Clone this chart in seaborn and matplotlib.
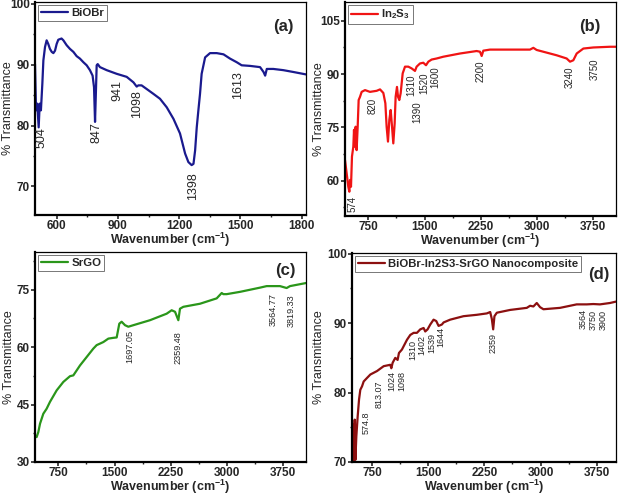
import numpy as np
import pandas as pd
import matplotlib
matplotlib.use("Agg")
import matplotlib.pyplot as plt
from matplotlib.ticker import MultipleLocator
import seaborn as sns

# ---------------- data ----------------
a_x = [494, 499, 505, 512, 517, 523, 530, 535, 543, 551, 559, 567, 576, 584, 592, 600, 608, 624, 633,
       649, 665, 682, 698, 714, 731, 747, 763, 776, 783, 788, 791, 796, 801, 812, 845, 894, 943, 976,
       992, 1000, 1016, 1041, 1074, 1106, 1139, 1172, 1204, 1229, 1245, 1261, 1270, 1278, 1286, 1294,
       1302, 1310, 1327, 1351, 1384, 1417, 1449, 1482, 1506, 1547, 1596, 1613, 1621, 1629, 1661, 1710,
       1759, 1821]
a_y = [90.1, 82.5, 83.6, 79.7, 83.6, 82.5, 86.9, 90.7, 92.9, 94.0, 93.4, 92.6, 92.1, 91.9, 92.3, 93.4,
       94.1, 94.3, 94.0, 93.2, 92.6, 92.1, 91.4, 91.0, 90.4, 89.9, 89.1, 88.2, 86.3, 80.6, 84.1, 89.9,
       90.1, 89.6, 89.1, 88.5, 88.0, 87.1, 86.4, 86.6, 86.6, 86.0, 85.2, 84.4, 83.0, 81.1, 78.7, 75.4,
       74.0, 73.5, 73.7, 75.9, 79.7, 82.5, 85.2, 88.5, 91.2, 91.9, 91.9, 91.7, 91.0, 90.4, 89.9, 89.8,
       89.6, 88.8, 88.2, 89.3, 89.3, 89.1, 88.8, 88.4]
a_peaks = ["504", "847", "941", "1098", "1398", "1613"]
a_peak_x = [526, 796, 897, 992, 1266, 1490]
a_peak_y = [78.1, 78.8, 85.7, 83.6, 70.1, 86.6]

b_x = [439, 461, 483, 497, 506, 519, 532, 550, 559, 568, 581, 594, 608, 621, 639, 661, 706, 772, 861,
       906, 950, 977, 994, 1012, 1030, 1048, 1066, 1083, 1101, 1114, 1132, 1146, 1163, 1181, 1208, 1239,
       1283, 1328, 1372, 1394, 1439, 1483, 1519, 1550, 1594, 1661, 1750, 1972, 2194, 2239, 2261, 2283,
       2372, 2639, 2905, 2950, 2994, 3083, 3261, 3394, 3439, 3483, 3528, 3617, 3750, 3972, 4052]
b_y = [65.8, 62.1, 58.3, 56.9, 60.2, 58.3, 66.8, 69.6, 74.3, 69.6, 75.2, 68.6, 75.2, 82.7, 83.6, 85.0,
       85.5, 85.0, 85.3, 85.7, 84.7, 81.8, 75.2, 71.0, 77.1, 79.9, 75.2, 70.5, 76.1, 83.6, 86.4, 83.6,
       82.7, 84.6, 90.2, 92.1, 92.1, 91.6, 90.9, 92.1, 93.0, 93.2, 92.5, 93.5, 94.1, 94.4, 94.9, 95.8,
       96.5, 96.3, 95.1, 96.6, 96.9, 96.9, 96.9, 97.4, 96.8, 96.3, 95.3, 94.4, 93.5, 93.9, 95.8, 97.2,
       97.5, 97.7, 97.7]
b_peaks = ["574", "820", "1390", "1310", "1520", "1600", "2200", "3240", "3750"]
b_peak_x = [537, 808, 1403, 1328, 1500, 1640, 2248, 3430, 3772]
b_peak_y = [53.4, 81.0, 79.4, 86.9, 87.4, 89.2, 90.7, 89.2, 91.3]

c_x = [439, 461, 483, 506, 550, 594, 639, 728, 817, 906, 950, 1039, 1128, 1217, 1261, 1306, 1350, 1417,
       1483, 1528, 1563, 1594, 1639, 1683, 1750, 1972, 2194, 2261, 2306, 2350, 2372, 2417, 2639, 2861,
       2928, 2950, 2994, 3172, 3439, 3528, 3705, 3794, 3839, 3972, 4052]
c_y = [37.0, 36.5, 37.8, 40.0, 42.6, 43.9, 45.7, 48.7, 50.9, 52.4, 52.6, 55.2, 57.4, 59.6, 60.5, 60.9,
       61.3, 62.2, 62.4, 62.5, 66.1, 66.6, 65.7, 65.3, 65.7, 67.0, 68.7, 69.6, 69.2, 67.0, 70.0, 70.5,
       71.3, 72.7, 74.1, 73.8, 73.8, 74.4, 75.5, 75.9, 75.9, 75.4, 75.9, 76.4, 76.7]
c_peaks = ["1697.05", "2359.48", "3564.77", "3819.33"]
c_peak_x = [1705, 2350, 3616, 3860]
c_peak_y = [60.2, 59.9, 69.8, 69.6]

d_x = [483, 492, 501, 510, 519, 528, 541, 559, 577, 594, 617, 639, 683, 728, 817, 906, 994, 1008, 1026,
       1061, 1092, 1110, 1150, 1217, 1261, 1306, 1350, 1394, 1439, 1461, 1492, 1528, 1572, 1608, 1639,
       1683, 1706, 1794, 1972, 2150, 2283, 2328, 2350, 2368, 2385, 2417, 2594, 2817, 2861, 2905, 2950,
       2994, 3039, 3261, 3483, 3617, 3705, 3794, 3928, 4008]
d_y = [75.6, 73.7, 70.0, 71.8, 76.1, 70.3, 73.7, 76.6, 79.0, 80.4, 80.9, 81.6, 82.1, 82.6, 83.1, 83.8,
       84.0, 83.5, 84.3, 85.0, 84.7, 85.7, 86.2, 87.6, 88.3, 88.6, 88.6, 89.1, 89.3, 88.8, 89.1, 89.8,
       90.5, 90.3, 89.6, 89.8, 90.1, 90.5, 91.0, 91.2, 91.4, 91.6, 90.6, 89.1, 91.0, 91.5, 91.9, 92.2,
       92.5, 92.4, 92.9, 92.3, 92.0, 92.2, 92.7, 92.7, 92.75, 92.7, 92.9, 93.1]
d_peaks = ["574.8", "813.07", "1024", "1098", "1310", "1402", "1539", "1644", "2359", "3564", "3750", "3900"]
d_peak_x = [674, 839, 1012, 1148, 1297, 1417, 1550, 1670, 2363, 3572, 3705, 3839]
d_peak_y = [75.7, 79.8, 81.6, 81.6, 86.2, 86.9, 87.2, 88.0, 87.1, 90.6, 90.4, 90.4]

labels = ["BiOBr", r"In$_\mathbf{2}$S$_\mathbf{3}$", "SrGO", "BiOBr-In2S3-SrGO Nanocomposite"]
tags = ["(a)", "(b)", "(c)", "(d)"]

# ---------------- style ----------------
sns.set_theme(style="ticks")
plt.rcParams["font.family"] = ["Liberation Sans", "DejaVu Sans"]
plt.rcParams["mathtext.fontset"] = "custom"
plt.rcParams["mathtext.rm"] = "Liberation Sans:bold"
plt.rcParams["mathtext.bf"] = "Liberation Sans:bold"
plt.rcParams["mathtext.it"] = "Liberation Sans:bold"

fig = plt.figure(figsize=(6.2, 4.97), dpi=100)
W, H = 620, 497

def axes_px(l, t, r, b):
    return fig.add_axes([l / W, 1 - b / H, (r - l) / W, (b - t) / H])

panels = [
    dict(box=(35, 2, 306, 215), x=a_x, y=a_y, color="#1a1a8e", xlim=(494, 1821), ylim=(65.3, 100.3),
         xmaj=300, ymaj=10, peaks=a_peaks, px=a_peak_x, py=a_peak_y, pfs=9, tag=(0.915, 0.885),
         ylab_x=8, xlab_y=240),
    dict(box=(345, 2, 616, 216), x=b_x, y=b_y, color="#f01414", xlim=(439, 4052), ylim=(50.06, 110.3),
         xmaj=750, ymaj=15, peaks=b_peaks, px=b_peak_x, py=b_peak_y, pfs=7.0, tag=(0.905, 0.885),
         ylab_x=319, xlab_y=241),
    dict(box=(35, 252, 306, 462), x=c_x, y=c_y, color="#2a961a", xlim=(439, 4052), ylim=(30, 84.8),
         xmaj=750, ymaj=15, peaks=c_peaks, px=c_peak_x, py=c_peak_y, pfs=6.6, tag=(0.925, 0.91),
         ylab_x=9, xlab_y=487),
    dict(box=(352, 253, 616, 462), x=d_x, y=d_y, color="#8c1010", xlim=(483, 4008), ylim=(70, 100.1),
         xmaj=750, ymaj=10, peaks=d_peaks, px=d_peak_x, py=d_peak_y, pfs=6.5, tag=(0.935, 0.895),
         ylab_x=319, xlab_y=487),
]

for i, p in enumerate(panels):
    l, t, r, b = p["box"]
    ax = axes_px(l, t, r, b)
    df = pd.DataFrame({"x": p["x"], "y": p["y"]})
    sns.lineplot(data=df, x="x", y="y", ax=ax, color=p["color"], lw=1.6,
                 estimator=None, sort=False, label=labels[i])
    ax.set_xlim(*p["xlim"])
    ax.set_ylim(*p["ylim"])
    ax.xaxis.set_major_locator(MultipleLocator(p["xmaj"]))
    ax.xaxis.set_minor_locator(MultipleLocator(p["xmaj"] / 2))
    ax.yaxis.set_major_locator(MultipleLocator(p["ymaj"]))
    ax.yaxis.set_minor_locator(MultipleLocator(p["ymaj"] / 2))
    ax.tick_params(which="major", direction="out", length=2.6, width=1.2, labelsize=8.5, pad=1.2)
    ax.tick_params(which="minor", direction="out", length=1.6, width=1.0)
    for lab in ax.get_xticklabels() + ax.get_yticklabels():
        lab.set_fontweight("bold")
    for s in ["left", "bottom"]:
        ax.spines[s].set_linewidth(1.6)
    for s in ["top", "right"]:
        ax.spines[s].set_linewidth(0.9)
    for s in ax.spines.values():
        s.set_color("black")
    ax.set_xlabel(r"Wavenumber (cm$^{-1}$)", fontsize=9, fontweight="bold", va="center")
    ax.set_ylabel("% Transmittance", fontsize=9, va="center")
    ax.xaxis.set_label_coords(0.5, -(p["xlab_y"] - b) / (b - t))
    ax.yaxis.set_label_coords((p["ylab_x"] - l) / (r - l), 0.5)
    for txt, xx, yy in zip(p["peaks"], p["px"], p["py"]):
        ax.text(xx, yy, txt, rotation=90, ha="center", va="center", fontsize=p["pfs"])
    ax.text(p["tag"][0], p["tag"][1], tags[i], transform=ax.transAxes, ha="center", va="center",
            fontsize=12, fontweight="bold")
    leg = ax.legend(loc="upper left", frameon=True, fancybox=False, framealpha=1,
                    edgecolor="#777777", prop={"weight": "bold", "size": 8.2},
                    borderpad=0.25, handlelength=2.4, handletextpad=0.3, borderaxespad=0.25)
    leg.get_frame().set_linewidth(0.7)
    for line in leg.get_lines():
        line.set_linewidth(1.6)

fig.savefig("out.png", dpi=100)
